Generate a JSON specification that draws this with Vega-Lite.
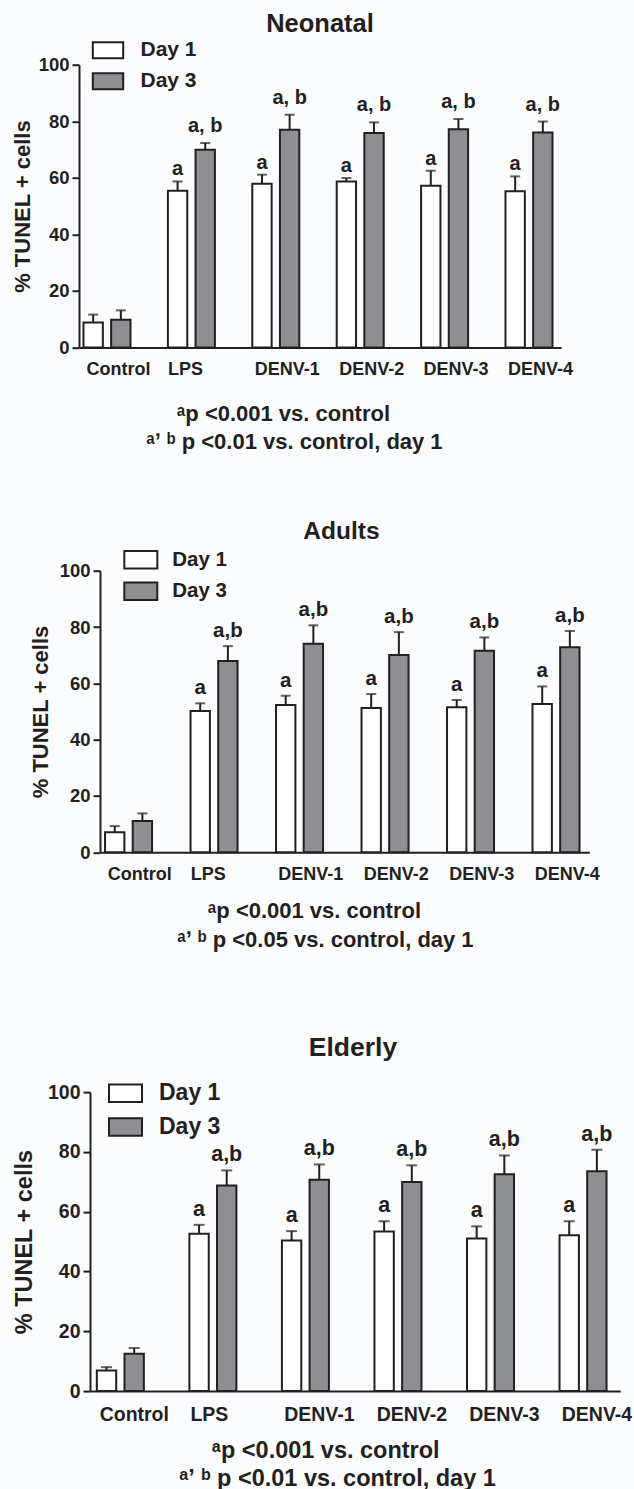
{
  "$schema": "https://vega.github.io/schema/vega-lite/v6.json",
  "background": "#fbfcfe",
  "padding": {"left": 10, "top": 10.7, "right": 5, "bottom": 2},
  "config": {
    "font": "Liberation Sans",
    "view": {"stroke": null},
    "axis": {
      "grid": false,
      "domainColor": "#231f20",
      "tickColor": "#231f20",
      "labelColor": "#231f20",
      "titleColor": "#231f20",
      "labelFontWeight": "bold",
      "titleFontWeight": "bold",
      "domainWidth": 2,
      "tickWidth": 2
    },
    "legend": {
      "padding": 0,
      "labelColor": "#231f20",
      "labelFontWeight": "bold",
      "symbolStrokeColor": "#231f20",
      "symbolStrokeWidth": 2,
      "symbolType": "M-1,-0.53H1V0.53H-1Z",
      "symbolOpacity": 1
    },
    "title": {"color": "#231f20", "fontWeight": "bold", "frame": "group", "baseline": "alphabetic", "anchor": "middle"}
  },
  "datasets": {
    "bars": [
      {"panel": "Neonatal", "group": "Control", "day": "Day 1", "value": 8.8, "upper": 11.6, "sig": ""},
      {"panel": "Neonatal", "group": "Control", "day": "Day 3", "value": 9.8, "upper": 13.1, "sig": ""},
      {"panel": "Neonatal", "group": "LPS", "day": "Day 1", "value": 55.4, "upper": 58.7, "sig": "a"},
      {"panel": "Neonatal", "group": "LPS", "day": "Day 3", "value": 69.9, "upper": 72.3, "sig": "a, b"},
      {"panel": "Neonatal", "group": "DENV-1", "day": "Day 1", "value": 57.9, "upper": 61.1, "sig": "a"},
      {"panel": "Neonatal", "group": "DENV-1", "day": "Day 3", "value": 77.0, "upper": 82.3, "sig": "a, b"},
      {"panel": "Neonatal", "group": "DENV-2", "day": "Day 1", "value": 58.7, "upper": 59.9, "sig": "a"},
      {"panel": "Neonatal", "group": "DENV-2", "day": "Day 3", "value": 75.8, "upper": 79.6, "sig": "a, b"},
      {"panel": "Neonatal", "group": "DENV-3", "day": "Day 1", "value": 57.2, "upper": 62.5, "sig": "a"},
      {"panel": "Neonatal", "group": "DENV-3", "day": "Day 3", "value": 77.2, "upper": 80.8, "sig": "a, b"},
      {"panel": "Neonatal", "group": "DENV-4", "day": "Day 1", "value": 55.2, "upper": 60.5, "sig": "a"},
      {"panel": "Neonatal", "group": "DENV-4", "day": "Day 3", "value": 76.0, "upper": 79.9, "sig": "a, b"},
      {"panel": "Adults", "group": "Control", "day": "Day 1", "value": 7.1, "upper": 9.3, "sig": ""},
      {"panel": "Adults", "group": "Control", "day": "Day 3", "value": 11.1, "upper": 13.8, "sig": ""},
      {"panel": "Adults", "group": "LPS", "day": "Day 1", "value": 50.2, "upper": 52.9, "sig": "a"},
      {"panel": "Adults", "group": "LPS", "day": "Day 3", "value": 67.9, "upper": 73.2, "sig": "a,b"},
      {"panel": "Adults", "group": "DENV-1", "day": "Day 1", "value": 52.3, "upper": 55.6, "sig": "a"},
      {"panel": "Adults", "group": "DENV-1", "day": "Day 3", "value": 74.1, "upper": 80.6, "sig": "a,b"},
      {"panel": "Adults", "group": "DENV-2", "day": "Day 1", "value": 51.2, "upper": 56.2, "sig": "a"},
      {"panel": "Adults", "group": "DENV-2", "day": "Day 3", "value": 70.1, "upper": 78.2, "sig": "a,b"},
      {"panel": "Adults", "group": "DENV-3", "day": "Day 1", "value": 51.5, "upper": 54.1, "sig": "a"},
      {"panel": "Adults", "group": "DENV-3", "day": "Day 3", "value": 71.6, "upper": 76.3, "sig": "a,b"},
      {"panel": "Adults", "group": "DENV-4", "day": "Day 1", "value": 52.7, "upper": 58.9, "sig": "a"},
      {"panel": "Adults", "group": "DENV-4", "day": "Day 3", "value": 72.8, "upper": 78.6, "sig": "a,b"},
      {"panel": "Elderly", "group": "Control", "day": "Day 1", "value": 6.9, "upper": 8.0, "sig": ""},
      {"panel": "Elderly", "group": "Control", "day": "Day 3", "value": 12.5, "upper": 14.4, "sig": ""},
      {"panel": "Elderly", "group": "LPS", "day": "Day 1", "value": 52.6, "upper": 55.6, "sig": "a"},
      {"panel": "Elderly", "group": "LPS", "day": "Day 3", "value": 68.8, "upper": 73.8, "sig": "a,b"},
      {"panel": "Elderly", "group": "DENV-1", "day": "Day 1", "value": 50.4, "upper": 53.5, "sig": "a"},
      {"panel": "Elderly", "group": "DENV-1", "day": "Day 3", "value": 70.7, "upper": 75.8, "sig": "a,b"},
      {"panel": "Elderly", "group": "DENV-2", "day": "Day 1", "value": 53.4, "upper": 56.8, "sig": "a"},
      {"panel": "Elderly", "group": "DENV-2", "day": "Day 3", "value": 69.9, "upper": 75.5, "sig": "a,b"},
      {"panel": "Elderly", "group": "DENV-3", "day": "Day 1", "value": 51.0, "upper": 55.1, "sig": "a"},
      {"panel": "Elderly", "group": "DENV-3", "day": "Day 3", "value": 72.5, "upper": 78.8, "sig": "a,b"},
      {"panel": "Elderly", "group": "DENV-4", "day": "Day 1", "value": 52.1, "upper": 56.8, "sig": "a"},
      {"panel": "Elderly", "group": "DENV-4", "day": "Day 3", "value": 73.5, "upper": 80.7, "sig": "a,b"}
    ]
  },
  "bounds": "flush",
  "spacing": 223,
  "resolve": {"scale": {"fill": "independent"}, "legend": {"fill": "independent"}},
  "vconcat": [
    {
      "width": 482,
      "height": 282.7,
      "title": {"text": "Neonatal", "fontSize": 25.5, "offset": -3.4},
      "data": {"name": "bars"},
      "transform": [{"filter": "datum.panel === 'Neonatal'"}],
      "encoding": {
        "x": {
          "field": "group", "type": "nominal",
          "sort": ["Control", "LPS", "DENV-1", "DENV-2", "DENV-3", "DENV-4"],
          "scale": {"range": [0, 482], "paddingInner": 0.443, "paddingOuter": 0.077, "align": 0.346},
          "axis": {
            "title": ["\u200b\u00a0\u00a0\u00a0\u00a0\u00a0\u1d43p <0.001 vs. control", "\u1d43\u02bc \u1d47 p <0.01 vs. control, day 1"],
            "labelAngle": 0, "ticks": false, "tickSize": 0,
            "labelPadding": 27, "labelBaseline": "alphabetic", "labelFontSize": 18,
            "labelOffset": {"condition": {"test": "datum.value === 'LPS'", "value": -6}, "value": 11.5},
            "titleFontSize": 22, "titleLineHeight": 28, "titleAlign": "left", "titleAnchor": "start",
            "titleX": 67, "titleY": 73, "titleBaseline": "alphabetic"
          }
        },
        "xOffset": {"field": "day", "type": "nominal", "scale": {"paddingInner": 0.3, "paddingOuter": 0}},
        "y": {
          "field": "value", "type": "quantitative", "title": "% TUNEL + cells",
          "scale": {"domain": [0, 100]},
          "axis": {"values": [0, 20, 40, 60, 80, 100], "tickSize": 7, "labelPadding": 3, "labelFontSize": 18.5,
                   "titleFontSize": 22, "titleX": -50, "titleBaseline": "alphabetic"}
        }
      },
      "layer": [
        {
          "mark": {"type": "bar", "stroke": "#231f20", "strokeWidth": 2},
          "encoding": {
            "fill": {
              "field": "day", "type": "nominal",
              "scale": {"domain": ["Day 1", "Day 3"], "range": ["#ffffff", "#8e8f92"]},
              "legend": {"orient": "none", "legendX": 12.5, "legendY": -31, "title": null, "symbolSize": 924,
                         "labelFontSize": 21, "labelOffset": 16, "rowPadding": 2}
            }
          }
        },
        {
          "mark": {"type": "rule", "strokeWidth": 2, "color": "#231f20"},
          "encoding": {"y2": {"field": "upper"}}
        },
        {
          "mark": {"type": "tick", "orient": "horizontal", "size": 10, "thickness": 2, "color": "#231f20"},
          "encoding": {"y": {"field": "upper", "type": "quantitative", "title": "% TUNEL + cells"}}
        },
        {
          "transform": [{"filter": "datum.sig === 'a'"}],
          "mark": {"type": "text", "dy": -6, "baseline": "alphabetic", "fontSize": 20, "fontWeight": "bold", "color": "#231f20"},
          "encoding": {"y": {"field": "upper", "type": "quantitative", "title": "% TUNEL + cells"}, "text": {"field": "sig"}}
        },
        {
          "transform": [{"filter": "datum.sig === 'a, b'"}],
          "mark": {"type": "text", "dy": -11, "baseline": "alphabetic", "fontSize": 20, "fontWeight": "bold", "color": "#231f20"},
          "encoding": {"y": {"field": "upper", "type": "quantitative", "title": "% TUNEL + cells"}, "text": {"field": "sig"}}
        }
      ]
    },
    {
      "bounds": "flush",
      "spacing": 239.4,
      "resolve": {"scale": {"fill": "independent"}, "legend": {"fill": "independent"}},
      "vconcat": [
        {
          "width": 510.3,
          "height": 281.6,
          "title": {"text": "Adults", "fontSize": 24.5, "offset": -2.7, "dx": 7.3},
          "data": {"name": "bars"},
          "transform": [{"filter": "datum.panel === 'Adults'"}],
          "encoding": {
            "x": {
              "field": "group", "type": "nominal",
              "sort": ["Control", "LPS", "DENV-1", "DENV-2", "DENV-3", "DENV-4"],
              "scale": {"range": [21, 510.3], "paddingInner": 0.444, "paddingOuter": 0.0836, "align": 0.353},
              "axis": {
                "title": ["\u200b\u00a0\u00a0\u00a0\u00a0\u00a0\u1d43p <0.001 vs. control", "\u1d43\u02bc \u1d47 p <0.05 vs. control, day 1"],
                "labelAngle": 0, "ticks": false, "tickSize": 0,
                "labelPadding": 27.7, "labelBaseline": "alphabetic", "labelFontSize": 18,
                "labelOffset": {"condition": {"test": "datum.value === 'LPS'", "value": -6}, "value": 11},
                "titleFontSize": 22, "titleLineHeight": 28.7, "titleAlign": "left", "titleAnchor": "start",
                "titleX": 98, "titleY": 65.7, "titleBaseline": "alphabetic"
              }
            },
            "xOffset": {"field": "day", "type": "nominal", "scale": {"paddingInner": 0.3, "paddingOuter": 0}},
            "y": {
              "field": "value", "type": "quantitative", "title": "% TUNEL + cells",
              "scale": {"domain": [0, 100]},
              "axis": {"values": [0, 20, 40, 60, 80, 100], "offset": -21, "tickSize": 7, "labelPadding": 3, "labelFontSize": 18.5,
                       "titleFontSize": 22, "titleX": -53, "titleBaseline": "alphabetic"}
            }
          },
          "layer": [
            {
              "mark": {"type": "bar", "stroke": "#231f20", "strokeWidth": 2},
              "encoding": {
                "fill": {
                  "field": "day", "type": "nominal",
                  "scale": {"domain": ["Day 1", "Day 3"], "range": ["#ffffff", "#8e8f92"]},
                  "legend": {"orient": "none", "legendX": 44.3, "legendY": -28.5, "title": null, "symbolSize": 1089,
                             "labelFontSize": 20.5, "labelOffset": 14, "rowPadding": 0.5}
                }
              }
            },
            {
              "mark": {"type": "rule", "strokeWidth": 2, "color": "#231f20"},
              "encoding": {"y2": {"field": "upper"}}
            },
            {
              "mark": {"type": "tick", "orient": "horizontal", "size": 10, "thickness": 2, "color": "#231f20"},
              "encoding": {"y": {"field": "upper", "type": "quantitative", "title": "% TUNEL + cells"}}
            },
            {
              "transform": [{"filter": "datum.sig !== ''"}],
              "mark": {"type": "text", "dy": -9, "baseline": "alphabetic", "fontSize": 20.5, "fontWeight": "bold", "color": "#231f20"},
              "encoding": {"y": {"field": "upper", "type": "quantitative", "title": "% TUNEL + cells"}, "text": {"field": "sig"}}
            }
          ]
        },
        {
          "width": 541.3,
          "height": 299,
          "title": {"text": "Elderly", "fontSize": 26.5, "offset": 14, "dx": 3.3},
          "data": {"name": "bars"},
          "transform": [{"filter": "datum.panel === 'Elderly'"}],
          "encoding": {
            "x": {
              "field": "group", "type": "nominal",
              "sort": ["Control", "LPS", "DENV-1", "DENV-2", "DENV-3", "DENV-4"],
              "scale": {"range": [11, 541.3], "paddingInner": 0.439, "paddingOuter": 0.0848, "align": 0.436},
              "axis": {
                "title": ["\u200b\u00a0\u00a0\u00a0\u00a0\u00a0\u1d43p <0.001 vs. control", "\u1d43\u02bc \u1d47 p <0.01 vs. control, day 1"],
                "labelAngle": 0, "ticks": false, "tickSize": 0,
                "labelPadding": 29.3, "labelBaseline": "alphabetic", "labelFontSize": 19.5,
                "labelOffset": {"condition": {"test": "datum.value === 'LPS'", "value": -6}, "value": 11.5},
                "titleFontSize": 23.5, "titleLineHeight": 28.3, "titleAlign": "left", "titleAnchor": "start",
                "titleX": 100, "titleY": 66, "titleBaseline": "alphabetic"
              }
            },
            "xOffset": {"field": "day", "type": "nominal", "scale": {"paddingInner": 0.32, "paddingOuter": 0}},
            "y": {
              "field": "value", "type": "quantitative", "title": "% TUNEL + cells",
              "scale": {"domain": [0, 100]},
              "axis": {"values": [0, 20, 40, 60, 80, 100], "offset": -11, "tickSize": 7, "labelPadding": 3, "labelFontSize": 19.5,
                       "titleFontSize": 23.5, "titleX": -58.5, "titleBaseline": "alphabetic"}
            }
          },
          "layer": [
            {
              "mark": {"type": "bar", "stroke": "#231f20", "strokeWidth": 2},
              "encoding": {
                "fill": {
                  "field": "day", "type": "nominal",
                  "scale": {"domain": ["Day 1", "Day 3"], "range": ["#ffffff", "#8e8f92"]},
                  "legend": {"orient": "none", "legendX": 29, "legendY": -16.4, "title": null, "symbolSize": 1089,
                             "labelFontSize": 23, "labelOffset": 16, "rowPadding": 2.7}
                }
              }
            },
            {
              "mark": {"type": "rule", "strokeWidth": 2, "color": "#231f20"},
              "encoding": {"y2": {"field": "upper"}}
            },
            {
              "mark": {"type": "tick", "orient": "horizontal", "size": 11, "thickness": 2, "color": "#231f20"},
              "encoding": {"y": {"field": "upper", "type": "quantitative", "title": "% TUNEL + cells"}}
            },
            {
              "transform": [{"filter": "datum.sig !== ''"}],
              "mark": {"type": "text", "dy": -9, "baseline": "alphabetic", "fontSize": 21.5, "fontWeight": "bold", "color": "#231f20"},
              "encoding": {"y": {"field": "upper", "type": "quantitative", "title": "% TUNEL + cells"}, "text": {"field": "sig"}}
            }
          ]
        }
      ]
    }
  ]
}
